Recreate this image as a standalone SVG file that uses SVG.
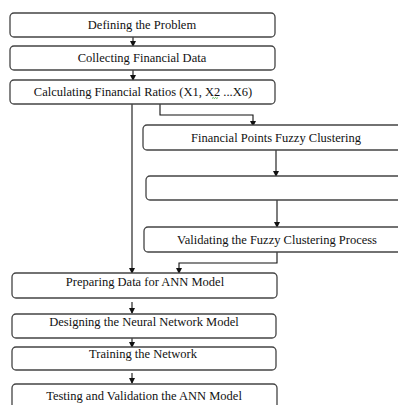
<svg xmlns="http://www.w3.org/2000/svg" width="398" height="405" viewBox="0 0 398 405">
<defs>
<style>
.box{fill:#fff;stroke:#444;stroke-width:1.3}
.lbl{font-family:"Liberation Serif","Times New Roman",serif;font-size:12.5px;fill:#111;text-anchor:middle}
.con{fill:none;stroke:#111;stroke-width:1.1}
</style>
<marker id="ah" markerWidth="6" markerHeight="6" refX="5" refY="3" orient="auto" markerUnits="userSpaceOnUse">
<path d="M0,0 L6,3 L0,6 Z" fill="#111"/>
</marker>
</defs>
<rect width="398" height="405" fill="#fff"/>
<g id="connectors">
<path class="con" d="M133,37 V46" marker-end="url(#ah)"/>
<path class="con" d="M133,70 V80" marker-end="url(#ah)"/>
<path class="con" d="M132,104 V273" marker-end="url(#ah)"/>
<path class="con" d="M160,104 V115 H253 V126" marker-end="url(#ah)"/>
<path class="con" d="M276,150 V176" marker-end="url(#ah)"/>
<path class="con" d="M277,200 V227" marker-end="url(#ah)"/>
<path class="con" d="M277,252 V263 H179 V273" marker-end="url(#ah)"/>
<path class="con" d="M132,302 V313" marker-end="url(#ah)"/>
<path class="con" d="M132,338 V347" marker-end="url(#ah)"/>
<path class="con" d="M132,373 V383" marker-end="url(#ah)"/>
</g>
<g id="n1"><rect class="box" x="10" y="13" width="265" height="24" rx="4"/><text class="lbl" x="142" y="29">Defining the Problem</text></g>
<g id="n2"><rect class="box" x="10" y="46" width="265" height="24" rx="4"/><text class="lbl" x="142" y="62">Collecting Financial Data</text></g>
<g id="n3"><rect class="box" x="10" y="80" width="265" height="24" rx="4"/><text class="lbl" x="143" y="96">Calculating Financial Ratios (X1, X2 ...X6)</text><path d="M212,98.5 l1.2,-1 l1.2,1 l1.2,-1 l1.2,1 l1.2,-1" fill="none" stroke="#3a3" stroke-width="0.8"/></g>
<g id="n4"><rect class="box" x="143" y="125" width="270" height="25" rx="4"/><text class="lbl" x="276" y="142">Financial Points Fuzzy Clustering</text></g>
<g id="n5"><rect class="box" x="146" y="176" width="267" height="24" rx="4"/></g>
<g id="n6"><rect class="box" x="144" y="227" width="269" height="25" rx="4"/><text class="lbl" x="277" y="244">Validating the Fuzzy Clustering Process</text></g>
<g id="n7"><rect class="box" x="12" y="273" width="265" height="25" rx="4"/><text class="lbl" x="145" y="286">Preparing Data for ANN Model</text></g>
<g id="n8"><rect class="box" x="12" y="314" width="264" height="24" rx="4"/><text class="lbl" x="144" y="326">Designing the Neural Network Model</text></g>
<g id="n9"><rect class="box" x="12" y="347" width="264" height="23" rx="4"/><text class="lbl" x="143" y="358">Training the Network</text></g>
<g id="n10"><rect class="box" x="12" y="384" width="265" height="30" rx="4"/><text class="lbl" x="144" y="400">Testing and Validation the ANN Model</text></g>
</svg>
